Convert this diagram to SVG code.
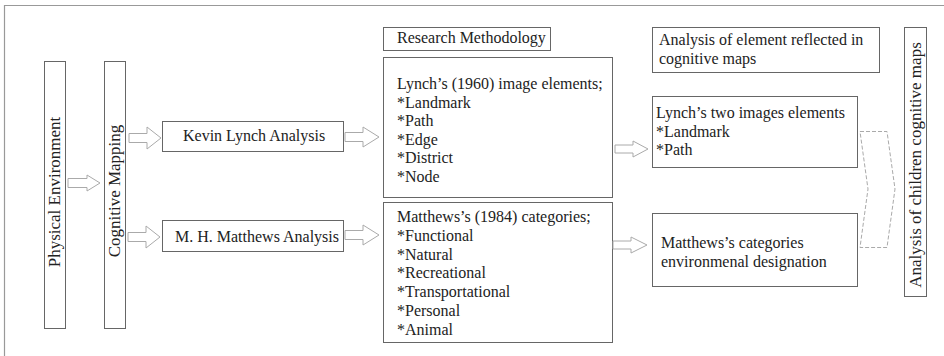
<svg xmlns="http://www.w3.org/2000/svg" width="944" height="356" viewBox="0 0 944 356">
<defs>
<style>
.box{fill:#fff;stroke:#666;stroke-width:1}
.t{font-family:"Liberation Serif","Times New Roman",serif;font-size:16px;fill:#222}
.v{font-family:"Liberation Serif","Times New Roman",serif;font-size:17px;fill:#222;text-anchor:middle}
.arr{fill:#fff;stroke:#aaa;stroke-width:1}
.chev{fill:none;stroke:#aaa;stroke-width:1;stroke-dasharray:4 2}
.frame{stroke:#999;stroke-width:1.2;fill:none}
</style>
</defs>
<rect width="944" height="356" fill="#fff"/>
<path class="frame" d="M4.5,356 V5.5 H944"/>

<g id="physical-environment">
<rect class="box" x="44.5" y="61.5" width="21" height="267"/>
<text class="v" transform="translate(60,192) rotate(-90)">Physical Environment</text>
</g>
<g id="cognitive-mapping">
<rect class="box" x="104.5" y="61.5" width="21" height="267"/>
<text class="v" transform="translate(120,191) rotate(-90)">Cognitive Mapping</text>
</g>
<g id="kevin-lynch-analysis">
<rect class="box" x="162.5" y="121.5" width="181" height="30"/>
<text class="t" x="183" y="141">Kevin Lynch Analysis</text>
</g>
<g id="matthews-analysis">
<rect class="box" x="162.5" y="220.5" width="181" height="31"/>
<text class="t" x="175" y="242">M. H. Matthews Analysis</text>
</g>
<g id="research-methodology">
<rect class="box" x="383.5" y="27.5" width="167" height="23"/>
<text class="t" x="397" y="43">Research Methodology</text>
</g>
<g id="lynch-elements">
<rect class="box" x="383.5" y="57.5" width="229" height="140"/>
<text class="t" x="397" y="89">Lynch’s (1960) image elements;</text>
<text class="t" x="397" y="107.6">*Landmark</text>
<text class="t" x="397" y="126.2">*Path</text>
<text class="t" x="397" y="144.8">*Edge</text>
<text class="t" x="397" y="163.4">*District</text>
<text class="t" x="397" y="182">*Node</text>
</g>
<g id="matthews-categories">
<rect class="box" x="383.5" y="202.5" width="229" height="140"/>
<text class="t" x="397" y="222">Matthews’s (1984) categories;</text>
<text class="t" x="397" y="240.8">*Functional</text>
<text class="t" x="397" y="259.6">*Natural</text>
<text class="t" x="397" y="278.4">*Recreational</text>
<text class="t" x="397" y="297.2">*Transportational</text>
<text class="t" x="397" y="316">*Personal</text>
<text class="t" x="397" y="334.8">*Animal</text>
</g>
<g id="analysis-of-element">
<rect class="box" x="652.5" y="27.5" width="227" height="45"/>
<text class="t" x="659" y="45">Analysis of element reflected in</text>
<text class="t" x="659" y="64">cognitive maps</text>
</g>
<g id="lynch-two-elements">
<rect class="box" x="652.5" y="96.5" width="205" height="71"/>
<text class="t" x="656" y="118">Lynch’s two images elements</text>
<text class="t" x="656" y="137">*Landmark</text>
<text class="t" x="656" y="155">*Path</text>
</g>
<g id="matthews-designation">
<rect class="box" x="652.5" y="213.5" width="205" height="73"/>
<text class="t" x="661" y="248">Matthews’s categories</text>
<text class="t" x="661" y="267">environmenal designation</text>
</g>
<g id="analysis-children">
<rect class="box" x="904.5" y="27.5" width="22" height="269"/>
<text class="v" transform="translate(921,165) rotate(-90)">Analysis of children cognitive maps</text>
</g>

<g id="connectors">
<path class="arr" d="M68,178.5 H87 V175 L100,183 L87,191 V187.5 H68 Z"/>
<path class="arr" d="M129,133.5 H147 V127 L161,138 L147,149 V142.5 H129 Z"/>
<path class="arr" d="M128,232.5 H146 V226 L160,237 L146,248 V241.5 H128 Z"/>
<path class="arr" d="M345,132.5 H363 V127 L379,137 L363,147 V141.5 H345 Z"/>
<path class="arr" d="M345,230.5 H363 V225 L379,235 L363,245 V239.5 H345 Z"/>
<path class="arr" d="M615,145 H633 V141 L648,149 L633,157 V153 H615 Z"/>
<path class="arr" d="M613,241 H631 V237 L647,245 L631,253 V249 H613 Z"/>
<path class="chev" d="M860,131.5 H887 L895,189 L887,247.5 H860 L868,189 Z"/>
</g>
</svg>
